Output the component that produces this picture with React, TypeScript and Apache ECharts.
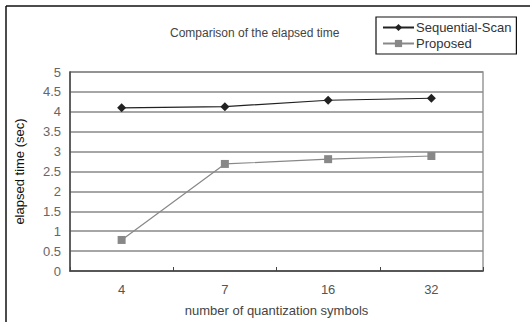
import React, { useEffect, useRef } from "react";
import * as echarts from "echarts";

const categories = ["4", "7", "16", "32"];
const sequentialScan = [4.1, 4.13, 4.29, 4.34];
const proposed = [0.78, 2.69, 2.81, 2.89];

export default function App() {
  const ref = useRef<HTMLDivElement>(null);
  useEffect(() => {
    if (!ref.current) return;
    const chart = echarts.init(ref.current, undefined, { renderer: "svg" });
    const font = "Liberation Sans, Arial, sans-serif";
    chart.setOption({
      animation: false,
      backgroundColor: "#fff",
      textStyle: { fontFamily: font },
      title: {
        text: "Comparison of the elapsed time",
        left: 170,
        top: 27,
        padding: 0,
        textStyle: { fontSize: 12, fontWeight: "normal", color: "#444", fontFamily: font },
      },
      legend: {
        left: 376,
        top: 17,
        orient: "vertical",
        padding: [4, 5, 4, 6],
        itemGap: 3,
        itemWidth: 31,
        itemHeight: 9,
        borderColor: "#111",
        borderWidth: 1.2,
        textStyle: { fontSize: 13, color: "#333", fontFamily: font, padding: [0, 0, 0, -3] },
        data: [
          { name: "Sequential-Scan" },
          { name: "Proposed" },
        ],
      },
      grid: {
        left: 70,
        right: 47,
        top: 72,
        bottom: 49,
        show: true,
        borderColor: "#999",
        borderWidth: 1.5,
      },
      xAxis: {
        type: "category",
        data: categories,
        boundaryGap: true,
        name: "number of quantization symbols",
        nameLocation: "middle",
        nameGap: 33,
        nameTextStyle: { fontSize: 13, color: "#444", fontFamily: font },
        axisLine: { lineStyle: { color: "#444", width: 1.5 } },
        axisTick: { show: true, inside: true, length: 4, lineStyle: { color: "#444" } },
        axisLabel: { fontSize: 13, color: "#555", margin: 12, fontFamily: font },
      },
      yAxis: {
        type: "value",
        min: 0,
        max: 5,
        interval: 0.5,
        name: "elapsed time (sec)",
        nameLocation: "middle",
        nameGap: 44,
        nameTextStyle: { fontSize: 13, color: "#111", fontFamily: font },
        axisLine: { show: true, lineStyle: { color: "#444", width: 1.5 } },
        axisTick: { show: false },
        axisLabel: { fontSize: 13, color: "#666", margin: 9, fontFamily: font },
        splitLine: { lineStyle: { color: "#888", width: 1.5 } },
      },
      graphic: [
        { type: "line", shape: { x1: 6, y1: 6, x2: 530, y2: 6 }, style: { stroke: "#111", lineWidth: 1.5 } },
        { type: "line", shape: { x1: 6, y1: 6, x2: 6, y2: 322 }, style: { stroke: "#111", lineWidth: 1.5 } },
      ],
      series: [
        {
          name: "Sequential-Scan",
          type: "line",
          data: sequentialScan,
          symbol: "diamond",
          symbolSize: 9,
          lineStyle: { color: "#222", width: 1.2 },
          itemStyle: { color: "#222" },
        },
        {
          name: "Proposed",
          type: "line",
          data: proposed,
          symbol: "rect",
          symbolSize: 8,
          lineStyle: { color: "#888", width: 1.2 },
          itemStyle: { color: "#888" },
        },
      ],
    });
    return () => chart.dispose();
  }, []);
  return <div ref={ref} style={{ width: 530, height: 322, position: "absolute", left: 0, top: 0 }} />;
}
